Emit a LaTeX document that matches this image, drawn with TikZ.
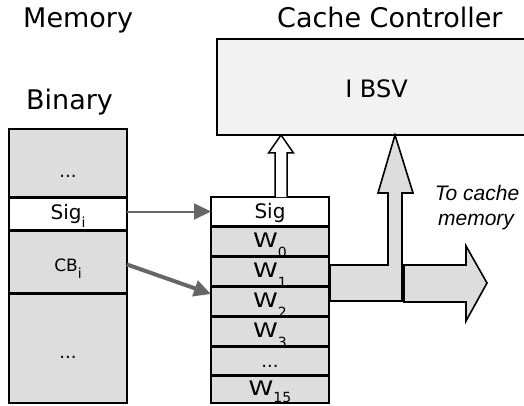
\documentclass[tikz,border=0pt]{standalone}
\usepackage{fontspec}
\setmainfont{DejaVu Sans}
\newfontfamily\arialfont{Liberation Sans}
\usetikzlibrary{arrows.meta,calc}
\definecolor{cellgray}{RGB}{221,221,221}
\definecolor{boxgray}{RGB}{242,242,242}
\definecolor{arrowgray}{RGB}{102,102,102}
\newcommand{\fsz}[1]{\fontsize{#1}{#1}\selectfont}
\newcommand{\lowsub}[2]{\raisebox{-#1pt}{\fsz{14}#2}}
\newcommand{\wlabel}[2][10]{\scalebox{1.25}[1]{W}\lowsub{#1}{#2}}
\begin{document}
\begin{tikzpicture}[x=1pt,y=-1pt,
  cell/.style={draw=black, line width=1.8pt, fill=cellgray, minimum width=118pt, inner sep=0pt, outer sep=0pt},
  whitecell/.style={cell, fill=white},
  sepline/.style={line width=3pt},
  title/.style={anchor=base west, inner sep=0pt, font=\fsz{27}},
  celltext/.style={anchor=base, inner sep=0pt, font=\fsz{20}},
  dots/.style={anchor=base, inner sep=0pt, font=\fsz{18}},
  garrow/.style={draw=arrowgray, -{Triangle[length=17pt,width=16pt]}},
  bigarrow/.style={draw=black, line width=1.6pt, fill=cellgray},
  note/.style={anchor=base, inner sep=0pt, font=\arialfont\itshape\fsz{21}}
]
\useasboundingbox (0,0) rectangle (524,406);

% titles
\node[title] (mem) at (23,28) {Memory};
\node[title] (cc) at (277,28) {Cache Controller};
\node[title] (bin) at (26,110) {Binary};

% IBSV box (runs off the right edge)
\node[fill=boxgray, minimum width=307pt, minimum height=96pt, inner sep=0pt, outer sep=0pt, anchor=north west] (ibsv) at (217,39) {};
\draw[line width=1.8pt] (ibsv.north east) -- (ibsv.north west) -- (ibsv.south west) -- (ibsv.south east);
\node[anchor=base, inner sep=0pt, font=\fsz{24}] (ibsvt) at (376.5,98) {I BSV};

% binary column
\node[cell, minimum height=68pt] (b1) at (68,163) {};
\node[dots] (b1t) at (68,178) {...};
\node[whitecell, minimum height=33pt] (b2) at (68,213.5) {};
\node[celltext] (b2t) at (68,219) {Sig\lowsub{8}{i}};
\node[cell, minimum height=63pt] (b3) at (68,261.5) {};
\node[celltext, font=\fsz{17}] (b3t) at (68,271) {CB\lowsub{7}{i}};
\node[cell, minimum height=110pt] (b4) at (68,348) {};
\node[dots] (b4t) at (68,358) {...};

% cache line column
\node[whitecell, minimum height=29pt] (m0) at (270,211.5) {};
\node[celltext] (m0t) at (270,218) {Sig};
\node[cell, minimum height=30pt] (mw0) at (270,241) {};
\node[celltext] (mw0t) at (270,247) {\wlabel{0}};
\node[cell, minimum height=30pt] (mw1) at (270,271) {};
\node[celltext] (mw1t) at (270,277) {\wlabel{1}};
\node[cell, minimum height=30pt] (mw2) at (270,301) {};
\node[celltext] (mw2t) at (270,307) {\wlabel{2}};
\node[cell, minimum height=30pt] (mw3) at (270,331) {};
\node[celltext] (mw3t) at (270,337) {\wlabel{3}};
\node[cell, minimum height=29pt] (md) at (270,360.5) {};
\node[dots] (mdt) at (270,367) {...};
\node[cell, minimum height=28pt] (mw15) at (270,389) {};
\node[celltext] (mw15t) at (270,395) {\wlabel[7]{15}};

% thick row separators
\foreach \n in {b2,b3,b4,mw0,mw1,mw2,mw3,md,mw15}
  \draw[sepline] (\n.north west) -- (\n.north east);

% hollow arrow Sig -> IBSV
\coordinate (ha) at ($(m0.north)+(11,0)$);
\coordinate (ht) at (ha |- ibsv.south);
\draw[line width=1.5pt, fill=white] ($(ha)+(-6,0)$) -- ($(ht)+(-6,18)$) -- ($(ht)+(-12.5,18)$) -- (ht) -- ($(ht)+(12.5,18)$) -- ($(ht)+(6,18)$) -- ($(ha)+(6,0)$);

% big gray T arrow and right arrow
\coordinate (bt) at (395,135);
\draw[bigarrow] (330,265) -- (388,265) -- (388,193) -- (378,193) -- (bt) -- (413,193) -- (402,193) -- (402,301) -- (330,301) -- cycle;
\coordinate (rt) at (487,283);
\draw[bigarrow] (404,265) -- (466,265) -- (466,246) -- (rt) -- (466,321) -- (466,302) -- (404,302) -- cycle;

% gray connectors
\draw[garrow, line width=2pt] (b2.east |- m0.west) -- (m0.west);
\draw[garrow, line width=4pt] ($(b3.east)+(0,3)$) -- ($(mw2.west)+(0,-7)$);

% note
\node[note] (tc1) at (477,200) {To cache};
\node[note] (tc2) at (476,225) {memory};
\end{tikzpicture}
\end{document}
